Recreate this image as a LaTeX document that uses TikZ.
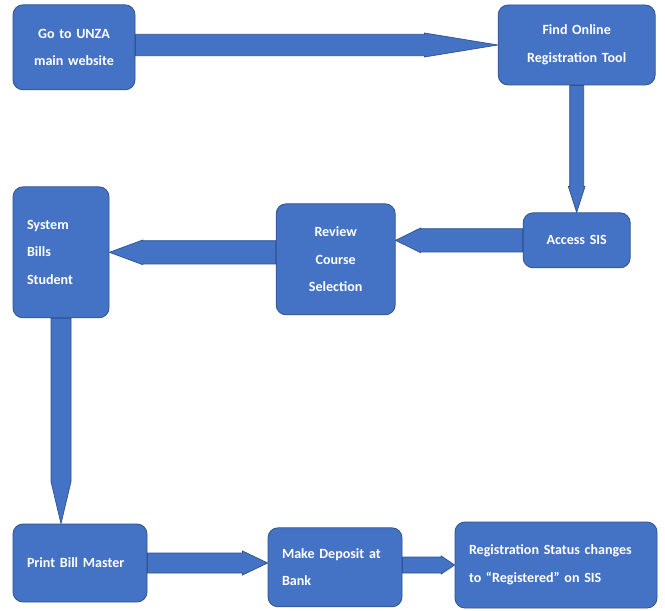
\documentclass[tikz,border=0pt]{standalone}
\usepackage{fontspec}
\setmainfont{Carlito}
\usetikzlibrary{calc, backgrounds}
\definecolor{UNZABlue}{RGB}{68,114,196}
\definecolor{UNZAEdge}{RGB}{47,82,143}

\tikzset{
  stage/.style={rectangle, rounded corners=0.3cm, draw=UNZAEdge, line width=0.7pt,
                fill=UNZABlue, text=white, font=\fontsize{12}{23.5}\selectfont\bfseries,
                inner xsep=0.42cm, inner ysep=0pt},
  stagec/.style={stage, align=center},
  stagel/.style={stage, align=left},
  arrowbody/.style={fill=UNZABlue, draw=UNZAEdge, line width=0.6pt, line join=miter}
}

% block arrow: start, tip, half shaft width, half head width, head length
\newcommand{\flowarrow}[5]{%
  \path (#2) coordinate (fa-tip) (#1) coordinate (fa-start);
  \coordinate (fa-base) at ($(fa-tip)!#5!(fa-start)$);
  \filldraw[arrowbody] ($(fa-start)!#3!90:(fa-tip)$)
    -- ($(fa-base)!#3!-90:(fa-start)$) -- ($(fa-base)!#4!-90:(fa-start)$)
    -- (fa-tip)
    -- ($(fa-base)!#4!90:(fa-start)$) -- ($(fa-base)!#3!90:(fa-start)$)
    -- ($(fa-start)!#3!-90:(fa-tip)$) -- cycle;
}

\begin{document}
\begin{tikzpicture}
  \useasboundingbox (0,0) rectangle (19.95,18.3);

  % Top row
  \node[stagec, text width=2.82cm, minimum height=2.55cm] (go) at (2.22,16.88)
    {Go to UNZA\\main website};
  \node[stagec, text width=3.87cm, minimum height=2.4cm] (find) at (17.3,16.95)
    {Find Online\\Registration Tool};

  % Middle row
  \node[stagec, text width=2.37cm, minimum height=1.65cm] (access) at (17.3,11.09)
    {Access SIS};
  \node[stagec, text width=2.73cm, minimum height=3.33cm] (review) at (10.07,10.52)
    {Review\\Course\\Selection};
  \node[stagel, text width=2.04cm, minimum height=3.93cm] (sys) at (1.83,10.73)
    {System\\Bills\\Student};

  % Bottom row
  \node[stagel, text width=3.18cm, minimum height=2.34cm] (print) at (2.4,1.41)
    {Print Bill Master};
  \node[stagel, text width=3.18cm, minimum height=2.37cm] (make) at (10.05,1.28)
    {Make Deposit at\\Bank};
  \node[stagel, text width=5.22cm, minimum height=2.58cm] (reg) at (16.68,1.35)
    {Registration Status changes\\to “Registered” on SIS};

  % Arrows behind the boxes
  \begin{scope}[on background layer]
    \fill[white] (0,0) rectangle (19.95,18.3);
    \flowarrow{go.east |- find.west}{find.west}{0.32cm}{0.36cm}{2.2cm}
    \flowarrow{find.south}{access.north}{0.21cm}{0.25cm}{0.78cm}
    \flowarrow{access.west}{review.east |- access.west}{0.35cm}{0.37cm}{0.75cm}
    \flowarrow{review.west |- sys.east}{sys.east}{0.35cm}{0.37cm}{1.0cm}
    \flowarrow{sys.south}{print.north -| sys.south}{0.3cm}{0.3cm}{1.26cm}
    \flowarrow{print.east}{make.west |- print.east}{0.3cm}{0.36cm}{0.75cm}
    \flowarrow{make.east |- reg.west}{reg.west}{0.24cm}{0.27cm}{0.4cm}
  \end{scope}
\end{tikzpicture}
\end{document}
